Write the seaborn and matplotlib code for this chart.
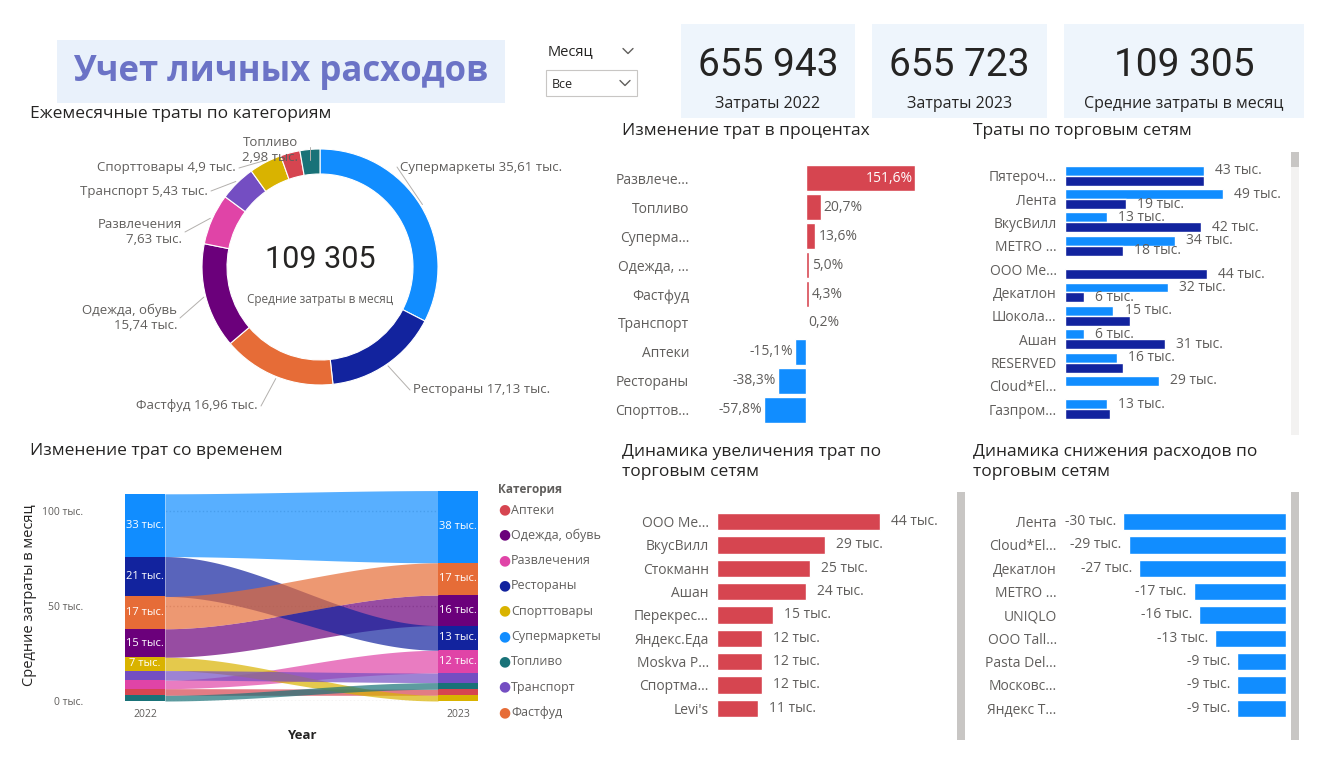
import numpy as np
import pandas as pd
import matplotlib
matplotlib.use("Agg")
import matplotlib.pyplot as plt
from matplotlib.patches import Rectangle
from matplotlib.lines import Line2D
import seaborn as sns

sns.set_theme(style="white")
plt.rcParams['font.family'] = ['Open Sans', 'DejaVu Sans']

# ---------------- data ----------------
kpi_values = ["655 943", "655 723", "109 305"]
kpi_labels = ["Затраты 2022", "Затраты 2023", "Средние затраты в месяц"]

donut_cats = ["Супермаркеты", "Рестораны", "Фастфуд", "Одежда, обувь", "Развлечения",
              "Транспорт", "Спорттовары", "Аптеки", "Топливо"]
donut_vals = [35.61, 17.13, 16.96, 15.74, 7.63, 5.43, 4.90, 2.93, 2.98]

pct_cats = ["Развлече...", "Топливо", "Суперма...", "Одежда, ...", "Фастфуд",
            "Транспорт", "Аптеки", "Рестораны", "Спорттов..."]
pct_vals = [151.6, 20.7, 13.6, 5.0, 4.3, 0.2, -15.1, -38.3, -57.8]

store_cats = ["Пятероч...", "Лента", "ВкусВилл", "METRO ...", "ООО Ме...", "Декатлон",
              "Шокола...", "Ашан", "RESERVED", "Cloud*El...", "Газпром..."]
store_2022 = [43, 49, 13, 34, 0, 32, 15, 6, 16, 29, 13]
store_2023 = [43, 19, 42, 18, 44, 6, 20, 31, 18, 0, 14]
store_2023_labelled = [False, True, True, True, True, True, False, True, False, False, False]

rib_cats = ["Аптеки", "Одежда, обувь", "Развлечения", "Рестораны", "Спорттовары",
            "Супермаркеты", "Топливо", "Транспорт", "Фастфуд"]
rib_2022 = [3.5, 15, 4.5, 21, 7, 33, 3, 5, 17]
rib_2023 = [3.2, 16, 12, 13, 3, 38, 3.5, 5, 17]

inc_cats = ["ООО Ме...", "ВкусВилл", "Стокманн", "Ашан", "Перекрес...", "Яндекс.Еда",
            "Moskva P...", "Спортма...", "Levi's"]
inc_vals = [44, 29, 25, 24, 15, 12, 12, 12, 11]

dec_cats = ["Лента", "Cloud*El...", "Декатлон", "METRO ...", "UNIQLO", "ООО Tall...",
            "Pasta Del...", "Московс...", "Яндекс Т..."]
dec_vals = [-30, -29, -27, -17, -16, -13, -9, -9, -9]

# ---------------- style ----------------
cat_colors = {"Супермаркеты": "#118DFF", "Рестораны": "#12239E", "Фастфуд": "#E66C37",
              "Одежда, обувь": "#6B007B", "Развлечения": "#E044A7", "Транспорт": "#744EC2",
              "Спорттовары": "#D9B300", "Аптеки": "#D64550", "Топливо": "#197278"}
RED, BLUE, DARK = "#D64550", "#118DFF", "#12239E"
TXT = "#252423"
GRAY = "#605E5C"

W, H = 1328, 768
fig = plt.figure(figsize=(W / 100, H / 100), dpi=100)
fig.patch.set_facecolor("white")


def pax(x0, y0, x1, y1, **kw):
    return fig.add_axes([x0 / W, 1 - y1 / H, (x1 - x0) / W, (y1 - y0) / H], **kw)


def ftext(x, y, s, **kw):
    fig.text(x / W, 1 - y / H, s, **kw)


def prect(x0, y0, x1, y1, color):
    fig.patches.append(Rectangle((x0 / W, 1 - y1 / H), (x1 - x0) / W, (y1 - y0) / H,
                                 transform=fig.transFigure, facecolor=color, edgecolor="none", zorder=0))


def chevron(x, y):
    fig.lines.append(Line2D([(x - 5) / W, x / W, (x + 5) / W], [1 - (y - 2.5) / H, 1 - (y + 2.5) / H, 1 - (y - 2.5) / H],
                            transform=fig.transFigure, color=GRAY, lw=1))


def clean(ax):
    for s in ax.spines.values():
        s.set_visible(False)
    ax.set_xticks([])
    ax.set_xlabel("")
    ax.set_ylabel("")
    ax.tick_params(axis="y", length=0, labelsize=10, labelcolor=GRAY, pad=6)


def tys(v):
    return f"{abs(v):.0f} тыс." if v >= 0 else f"-{abs(v):.0f} тыс."


# ---------------- header ----------------
prect(57, 40, 505, 103, "#E9F1FB")
ftext(281, 72, "Учет личных расходов", ha="center", va="center", fontsize=25,
      fontweight="bold", color="#6B73C6")
ftext(548, 52, "Месяц", ha="left", va="center", fontsize=10.5, color=TXT)
chevron(628, 51)
fig.patches.append(Rectangle((546 / W, 1 - 96 / H), 91 / W, 26 / H, transform=fig.transFigure,
                             facecolor="white", edgecolor="#C8C6C4", lw=0.8))
ftext(552, 85, "Все", ha="left", va="center", fontsize=9, color=TXT)
chevron(625, 83)

cards = [(681, 855), (872, 1047), (1064, 1304)]
for (x0, x1), v, l in zip(cards, kpi_values, kpi_labels):
    prect(x0, 24, x1, 118, "#EEF5FC")
    ftext((x0 + x1) / 2, 66, v, ha="center", va="center", fontsize=28, color=TXT,
          family=["Roboto", "DejaVu Sans"])
    ftext((x0 + x1) / 2, 104, l, ha="center", va="center", fontsize=11.5, color=TXT)

# ---------------- donut ----------------
ftext(30, 114, "Ежемесячные траты по категориям", ha="left", va="center", fontsize=12.5, color=TXT)
ax = pax(170, 117, 470, 417)
wedges, _ = ax.pie(donut_vals, colors=[cat_colors[c] for c in donut_cats], startangle=90,
                   counterclock=False, radius=1.18, wedgeprops=dict(width=0.25, edgecolor="white", linewidth=0.8))
ax.set_xlim(-1.5, 1.5)
ax.set_ylim(-1.5, 1.5)
ax.set_aspect("equal")
ax.text(0, 0.07, "109 305", ha="center", va="center", fontsize=22, color=TXT,
        family=["Roboto", "DejaVu Sans"])
ax.text(0, -0.33, "Средние затраты в месяц", ha="center", va="center", fontsize=8.5, color=GRAY)
label_pos = {"Супермаркеты": (0.80, 1.00, "left"), "Рестораны": (0.93, -1.23, "left"),
             "Фастфуд": (-0.62, -1.39, "right"), "Одежда, обувь": (-1.43, -0.51, "right"),
             "Развлечения": (-1.38, 0.35, "right"), "Транспорт": (-1.12, 0.76, "right"),
             "Спорттовары": (-0.84, 0.99, "right"), "Топливо": (-0.22, 1.17, "right")}
two_line = {"Одежда, обувь", "Развлечения", "Топливо"}
for w, c, v in zip(wedges, donut_cats, donut_vals):
    if c not in label_pos:
        continue
    tx, ty, ha = label_pos[c]
    vs = f"{v:.2f}".rstrip("0").rstrip(".").replace(".", ",") + " тыс."
    s = f"{c}\n{vs}" if c in two_line else f"{c} {vs}"
    ax.text(tx, ty, s, ha=ha, va="center", fontsize=9.5, color=GRAY, multialignment="right" if ha == "right" else "left")
    th = np.deg2rad((w.theta1 + w.theta2) / 2)
    px, py = 1.2 * np.cos(th), 1.2 * np.sin(th)
    ex = tx - 0.03 if ha == "left" else tx + 0.03
    if c == "Топливо":
        ax.plot([px, px], [py, 1.07], color="#B3B0AD", lw=0.7)
    else:
        ax.plot([px, ex], [py, ty], color="#B3B0AD", lw=0.7)

# ---------------- percent change ----------------
ftext(622, 131, "Изменение трат в процентах", ha="left", va="center", fontsize=12.5, color=TXT)
ax = pax(764, 164, 915, 424)
sns.barplot(x=pct_vals, y=pct_cats, hue=pct_cats, palette=[RED if v >= 0 else BLUE for v in pct_vals],
            legend=False, ax=ax, width=0.9, saturation=1)
clean(ax)
ax.set_xlim(-57.8, 151.6)
for i, v in enumerate(pct_vals):
    s = f"{v:.1f}%".replace(".", ",")
    if v > 100:
        ax.text(v - 3, i, s, ha="right", va="center", color="white", fontsize=10)
    elif v >= 0:
        ax.text(v + 4, i, s, ha="left", va="center", color=GRAY, fontsize=10)
    else:
        ax.text(v - 3, i, s, ha="right", va="center", color=GRAY, fontsize=10)
ax.tick_params(axis="y", pad=54)

# ---------------- stores ----------------
ftext(973, 131, "Траты по торговым сетям", ha="left", va="center", fontsize=12.5, color=TXT)
prect(1291, 152, 1299, 435, "#F3F2F1")
prect(1291, 152, 1299, 167, "#C8C6C4")
ax = pax(1065, 164, 1262, 421)
df = pd.DataFrame({"store": store_cats * 2, "val": store_2022 + store_2023,
                   "year": ["2022"] * len(store_cats) + ["2023"] * len(store_cats)})
sns.barplot(data=df, x="val", y="store", hue="year", palette=[BLUE, DARK], ax=ax,
            width=0.85, saturation=1, legend=False)
clean(ax)
ax.set_xlim(0, 61)
for k, cont in enumerate(ax.containers):
    show = [True] * len(store_cats) if k == 0 else store_2023_labelled
    labels = [tys(b.get_width()) if (b.get_width() > 0 and sh) else "" for b, sh in zip(cont, show)]
    ax.bar_label(cont, labels=labels, padding=8, fontsize=10, color=GRAY)

# ---------------- ribbon ----------------
ftext(30, 451, "Изменение трат со временем", ha="left", va="center", fontsize=12.5, color=TXT)
ax = pax(125, 490, 478, 701)
bw = 0.113


def stack(vals):
    order = np.argsort(vals)  # smallest at bottom
    bottoms = np.zeros(len(vals))
    acc = 0.0
    for k in order:
        bottoms[k] = acc
        acc += vals[k]
    return bottoms


b22 = stack(np.array(rib_2022))
b23 = stack(np.array(rib_2023))
t = np.linspace(0, 1, 100)
s = 3 * t ** 2 - 2 * t ** 3
xs = bw + (1 - 2 * bw) * t
for i, c in enumerate(rib_cats):
    col = cat_colors[c]
    lo = b22[i] + (b23[i] - b22[i]) * s
    hi = b22[i] + rib_2022[i] + (b23[i] + rib_2023[i] - b22[i] - rib_2022[i]) * s
    ax.fill_between(xs, lo, hi, color=col, alpha=0.7, lw=0)
    ax.bar(bw / 2, rib_2022[i], bottom=b22[i], width=bw, color=col, lw=0)
    ax.bar(1 - bw / 2, rib_2023[i], bottom=b23[i], width=bw, color=col, lw=0)
    for xb, v, b in ((bw / 2, rib_2022[i], b22[i]), (1 - bw / 2, rib_2023[i], b23[i])):
        if v >= 7:
            ax.text(xb, b + v / 2, f"{v:.0f} тыс.", ha="center", va="center", color="white", fontsize=8)
ax.set_xlim(0, 1)
ax.set_ylim(0, 111)
for s_ in ax.spines.values():
    s_.set_visible(False)
ax.set_yticks([0, 50, 100])
ax.set_yticklabels(["0 тыс.", "50 тыс.", "100 тыс."])
ax.yaxis.grid(True, linestyle=":", color="#C8C6C4")
ax.set_axisbelow(True)
ax.set_xticks([bw / 2, 1 - bw / 2])
ax.set_xticklabels(["2022", "2023"])
ax.tick_params(axis="both", length=0, labelsize=7.5, labelcolor=GRAY, pad=6)
ax.tick_params(axis="y", pad=30)
ax.set_xlabel("Year", fontsize=9.5, fontweight="bold", color=TXT, labelpad=6)
ax.set_ylabel("Средние затраты в месяц", fontsize=10.5, color=TXT, labelpad=4)
ftext(498, 489, "Категория", ha="left", va="center", fontsize=8.5, fontweight="bold", color=GRAY)
for k, c in enumerate(rib_cats):
    y = 510 + k * 25.3
    ftext(504, y, "●", ha="center", va="center", fontsize=10, color=cat_colors[c])
    ftext(511, y, c, ha="left", va="center", fontsize=9, color=GRAY)

# ---------------- increase ----------------
ftext(622, 462, "Динамика увеличения трат по\nторговым сетям", ha="left", va="center",
      fontsize=12.5, color=TXT, linespacing=1.3)
ax = pax(717, 510, 947, 720)
sns.barplot(x=inc_vals, y=inc_cats, color=RED, saturation=1, ax=ax, width=0.75)
clean(ax)
ax.set_xlim(0, 62)
ax.bar_label(ax.containers[0], labels=[tys(v) for v in inc_vals], padding=8, fontsize=10, color=GRAY)

# ---------------- decrease ----------------
ftext(973, 462, "Динамика снижения расходов по\nторговым сетям", ha="left", va="center",
      fontsize=12.5, color=TXT, linespacing=1.3)
prect(957, 492, 965, 740, "#C8C6C4")
prect(1291, 492, 1299, 740, "#C8C6C4")
ax = pax(1065, 510, 1286, 720)
sns.barplot(x=dec_vals, y=dec_cats, color=BLUE, saturation=1, ax=ax, width=0.75)
clean(ax)
ax.set_xlim(-40.7, 0)
for i, v in enumerate(dec_vals):
    ax.text(v - 1.3, i, tys(v), ha="right", va="center", fontsize=10, color=GRAY)
ax.tick_params(axis="y", pad=6)

fig.savefig("out.png", dpi=100, facecolor="white")
